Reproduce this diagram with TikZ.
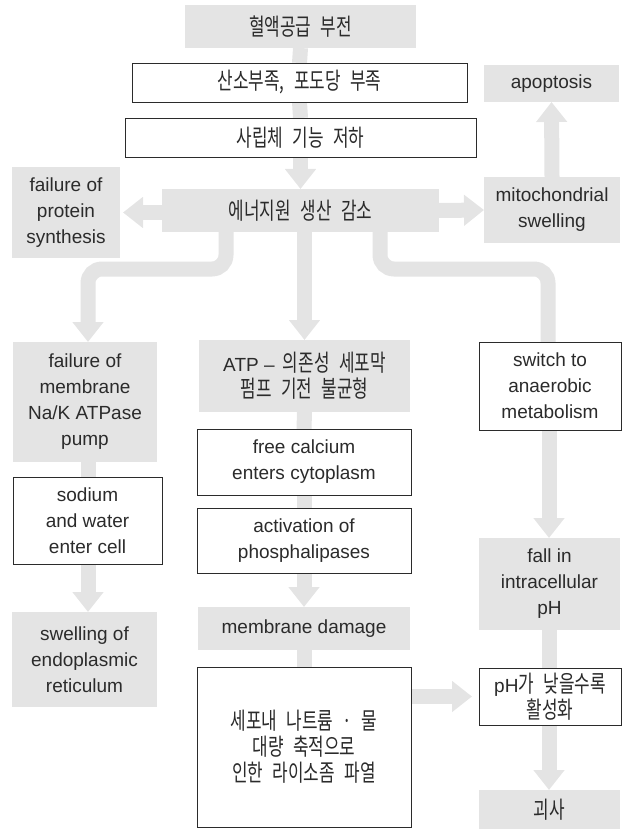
\documentclass[tikz,border=0pt]{standalone}
\usepackage{fontspec}
\setmainfont{Liberation Sans}
\newfontfamily\kr[FakeStretch=0.72,WordSpace=2.5]{Noto Sans CJK KR}
\usetikzlibrary{arrows.meta,calc,backgrounds}
\definecolor{boxgray}{HTML}{E4E4E4}
\definecolor{arrgray}{HTML}{E4E4E4}
\definecolor{txt}{HTML}{2B2B2B}
\begin{document}
\begin{tikzpicture}[x=1pt,y=-1pt,
  base/.style={inner sep=0pt, outer sep=0pt, align=center, text=txt, font=\fontsize{19}{26}\selectfont},
  gbox/.style={base, fill=boxgray},
  wbox/.style={base, fill=white, draw=txt, line width=0.9pt},
  shaft/.style={draw=arrgray, line width=15pt},
  garrow/.style={shaft, -{Triangle[width=30pt,length=20pt]}},
  ]
\useasboundingbox (0,0) rectangle (626,829);
\newcommand{\kt}{\fontsize{23.5}{27}\selectfont\kr}
% top column
\node[gbox, minimum width=231, minimum height=43] (blood) at (300.5,26.5) {\kt 혈액공급 부전};
\node[wbox, minimum width=335, minimum height=39] (oxy) at (299.5,82.5) {\kt 산소부족, 포도당 부족};
\node[wbox, minimum width=351, minimum height=39] (mito) at (300.5,137.5) {\kt 사립체 기능 저하};
\node[gbox, minimum width=277, minimum height=43] (energy) at (300.5,210.5) {\kt 에너지원 생산 감소};
\node[gbox, minimum width=108, minimum height=91] (protein) at (66,212.5) {failure of\\protein\\synthesis};
\node[gbox, minimum width=136, minimum height=66] (mitsw) at (552,210) {mitochondrial\\swelling};
\node[gbox, minimum width=135, minimum height=37] (apop) at (551.5,83.5) {apoptosis};
% left column
\node[gbox, minimum width=144, minimum height=120] (pump) at (85,402) {failure of\\membrane\\Na/K ATPase\\pump};
\node[wbox, minimum width=149, minimum height=87] (sodium) at (87.5,520.5) {sodium\\and water\\enter cell};
\node[gbox, minimum width=145, minimum height=95] (swer) at (84.5,659.5) {swelling of\\endoplasmic\\reticulum};
% centre column
\node[gbox, minimum width=211, minimum height=72] (atp) at (304.5,376) {ATP -- \hspace{3pt}{\kt 의존성 세포막}\\{\kt 펌프 기전 불균형}};
\node[wbox, minimum width=214, minimum height=66] (calc) at (304,462) {free calcium\\enters cytoplasm};
\node[wbox, minimum width=214, minimum height=65] (activ) at (304,540.5) {activation of\\phosphalipases};
\node[gbox, minimum width=212, minimum height=43] (damage) at (304,628.5) {membrane damage};
\node[wbox, minimum width=214, minimum height=160] (lyso) at (304,747) {\kt 세포내 나트륨 · 물\\\kt 대량 축적으로\\\kt 인한 라이소좀 파열};
% right column
\node[wbox, minimum width=142, minimum height=88] (switch) at (550,386) {switch to\\anaerobic\\metabolism};
\node[gbox, minimum width=141, minimum height=92] (fall) at (549.5,584) {fall in\\intracellular\\pH};
\node[wbox, minimum width=142, minimum height=57] (phbox) at (550,696.5) {pH{\kt 가 낮을수록}\\{\kt 활성화}};
\node[gbox, minimum width=141, minimum height=39] (necro) at (549.5,809.5) {\kt 괴사};
\coordinate (band) at (0,269);
\coordinate (eL) at (226,232);
\coordinate (eR) at (380,232);
\begin{pgfonlayer}{background}
\draw[shaft] (blood.south) -- (oxy.north);
\draw[shaft] (oxy.south) -- (mito.north);
\draw[garrow] (mito.south) -- (energy.north);
\draw[garrow, shorten >=3pt] (energy.west |- protein.east) -- (protein.east);
\draw[garrow] (energy.east) -- (mitsw.west);
\draw[garrow] (mitsw.north) -- (apop.south);
\draw[garrow, rounded corners=14pt] (eL) -- (eL |- band) -- ($(pump.north |- band)+(3,0)$) -- ($(pump.north)+(3,0)$);
\draw[garrow] (energy.south -| atp.north) -- (atp.north);
\draw[shaft, rounded corners=14pt] (eR) -- (eR |- band) -- ($(switch.north |- band)+(-2,0)$) -- ($(switch.north)+(-2,0)$);
\draw[shaft] ($(pump.south)+(3,0)$) -- ($(sodium.north)+(0.5,0)$);
\draw[garrow] ($(sodium.south)+(0.5,0)$) -- ($(swer.north)+(3.5,0)$);
\draw[shaft] (atp.south) -- (calc.north);
\draw[shaft] (calc.south) -- (activ.north);
\draw[garrow] (activ.south) -- (damage.north);
\draw[shaft] (damage.south) -- (lyso.north);
\draw[garrow, shorten >=7pt] (lyso.east |- phbox.west) -- (phbox.west);
\draw[garrow] ($(switch.south)+(-1,0)$) -- ($(fall.north)+(-0.5,0)$);
\draw[shaft] ($(fall.south)+(-0.5,0)$) -- ($(phbox.north)+(-1,0)$);
\draw[garrow] ($(phbox.south)+(-1,0)$) -- ($(necro.north)+(-0.5,0)$);
\end{pgfonlayer}
\end{tikzpicture}
\end{document}
